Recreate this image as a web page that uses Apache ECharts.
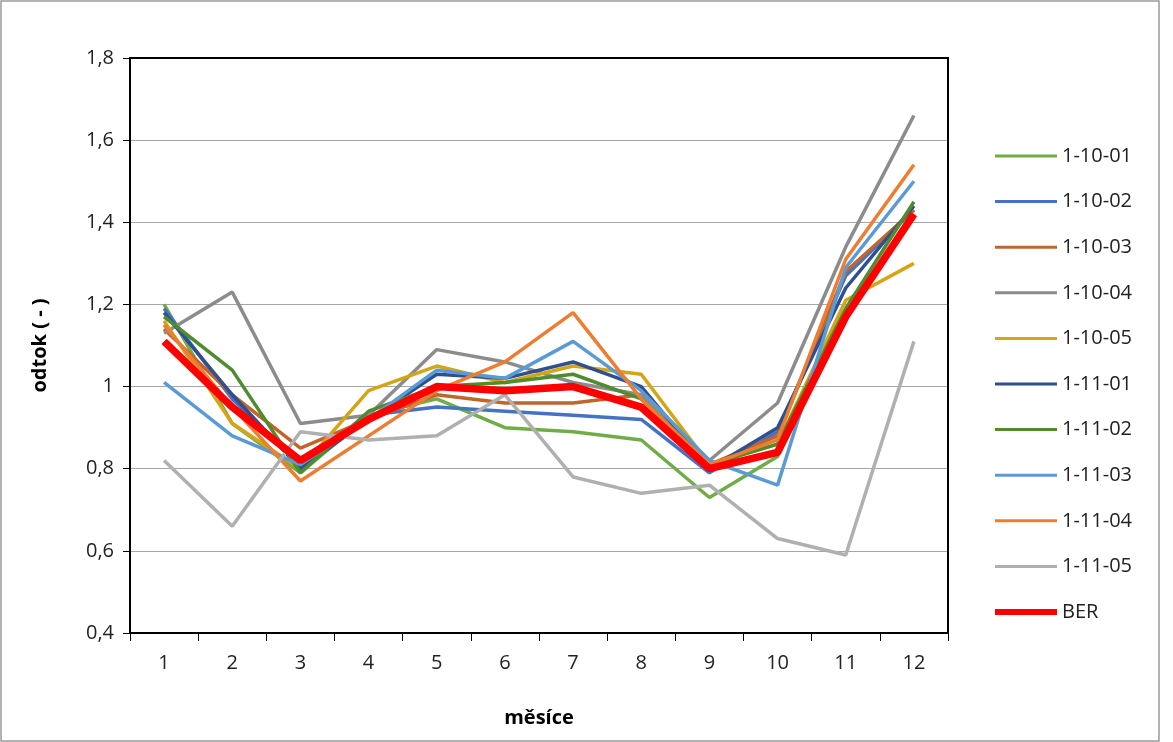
<!DOCTYPE html>
<html><head><meta charset="utf-8">
<script src="https://cdn.jsdelivr.net/npm/echarts@6/dist/echarts.min.js"></script>
<style>html,body{margin:0;padding:0;background:#fff}#c{width:1173px;height:742px}</style>
</head><body><div id="c"></div>
<script>
var months = ['1','2','3','4','5','6','7','8','9','10','11','12'];
var s_1_10_01 = [1.20,0.91,0.79,0.93,0.97,0.90,0.89,0.87,0.73,0.83,1.18,1.42];
var s_1_10_02 = [1.19,0.97,0.81,0.93,0.95,0.94,0.93,0.92,0.79,0.89,1.27,1.43];
var s_1_10_03 = [1.14,0.98,0.85,0.92,0.98,0.96,0.96,0.98,0.81,0.88,1.28,1.43];
var s_1_10_04 = [1.13,1.23,0.91,0.93,1.09,1.06,1.01,0.98,0.82,0.96,1.34,1.66];
var s_1_10_05 = [1.16,0.91,0.80,0.99,1.05,1.01,1.05,1.03,0.81,0.86,1.21,1.30];
var s_1_11_01 = [1.18,0.98,0.80,0.92,1.03,1.02,1.06,1.00,0.80,0.90,1.24,1.44];
var s_1_11_02 = [1.17,1.04,0.79,0.94,1.00,1.01,1.03,0.97,0.81,0.86,1.19,1.45];
var s_1_11_03 = [1.01,0.88,0.81,0.92,1.04,1.02,1.11,0.99,0.82,0.76,1.29,1.50];
var s_1_11_04 = [1.15,0.95,0.77,0.88,0.99,1.06,1.18,0.97,0.81,0.87,1.31,1.54];
var s_1_11_05 = [0.82,0.66,0.89,0.87,0.88,0.98,0.78,0.74,0.76,0.63,0.59,1.11];
var ber = [1.11,0.95,0.82,0.92,1.00,0.99,1.00,0.95,0.80,0.84,1.17,1.42];

var names = ['1-10-01','1-10-02','1-10-03','1-10-04','1-10-05','1-11-01','1-11-02','1-11-03','1-11-04','1-11-05','BER'];
var colors = ['#70ad47','#4472c4','#c0652b','#8c8c8c','#d4a514','#2f4f8f','#4e8c2f','#5b9bd5','#ed7d31','#b0b0b0','#ff0000'];
var data = [s_1_10_01,s_1_10_02,s_1_10_03,s_1_10_04,s_1_10_05,s_1_11_01,s_1_11_02,s_1_11_03,s_1_11_04,s_1_11_05,ber];

var series = names.map(function (n, i) {
    var isBer = n === 'BER';
    return {
        name: n, type: 'line', data: data[i], symbol: 'none', z: isBer ? 10 : 2,
        lineStyle: { width: isBer ? 7.5 : 3.5, color: colors[i] },
        itemStyle: { color: colors[i] }
    };
});
var font = 'Open Sans';
var chart = echarts.init(document.getElementById('c'));
chart.setOption({
    animation: false,
    graphic: [
        { type: 'rect', shape: { x: 1, y: 1, width: 1158, height: 740 }, style: { fill: 'none', stroke: '#9a9a9a', lineWidth: 1.5 } },
        { type: 'rect', z: 100, zlevel: 1, shape: { x: 130, y: 58, width: 818, height: 575 }, style: { fill: 'none', stroke: '#000', lineWidth: 2 } }
    ],
    grid: { left: 130, right: 225, top: 58, bottom: 109 },
    legend: {
        orient: 'vertical', left: 995, top: 144, itemGap: 21.6, itemWidth: 62, itemHeight: 24,
        textStyle: { fontFamily: font, fontSize: 20, color: '#222', lineHeight: 24 },
        padding: 0,
        data: names.map(function (n, i) {
            return { name: n, icon: n === 'BER' ? 'path://M0,9 L62,9 L62,15 L0,15 Z' : 'path://M0,10.5 L62,10.5 L62,13.5 L0,13.5 Z' };
        })
    },
    xAxis: {
        type: 'category', data: months, boundaryGap: true,
        name: 'měsíce', nameLocation: 'middle', nameGap: 75,
        nameTextStyle: { fontFamily: font, fontSize: 20, fontWeight: 'bold', color: '#000' },
        axisLine: { lineStyle: { color: '#000', width: 1 } },
        axisTick: { show: true, length: 8, lineStyle: { color: '#000' } },
        axisLabel: { fontFamily: font, fontSize: 20, color: '#222', margin: 20 }
    },
    yAxis: {
        type: 'value', min: 0.4, max: 1.8, interval: 0.2,
        name: 'odtok ( - )', nameLocation: 'middle', nameGap: 80,
        nameTextStyle: { fontFamily: font, fontSize: 20, fontWeight: 'bold', color: '#000' },
        axisLine: { show: true, lineStyle: { color: '#000' } },
        axisTick: { show: true, length: 7, lineStyle: { color: '#000' } },
        axisLabel: { fontFamily: font, fontSize: 20, color: '#222', margin: 16,
            formatter: function (v) { return String(Math.round(v * 10) / 10).replace('.', ','); } },
        splitLine: { lineStyle: { color: '#a6a6a6', width: 1.2 } }
    },
    series: series
});
</script></body></html>
